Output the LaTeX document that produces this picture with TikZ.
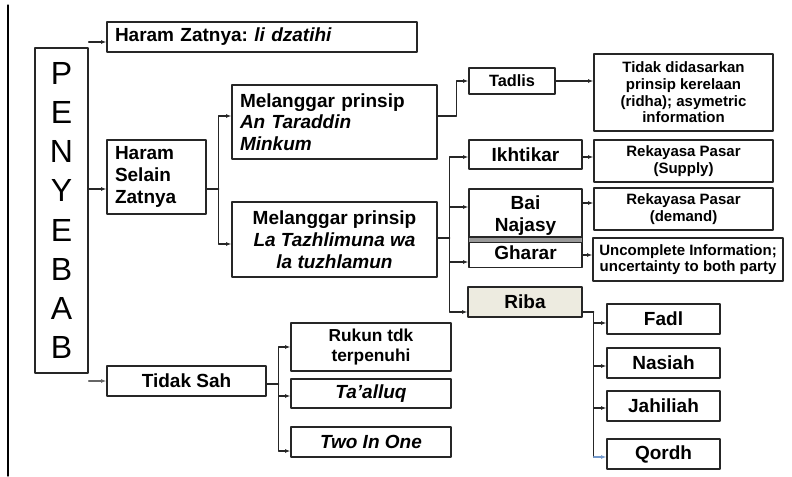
\documentclass[tikz,border=0pt]{standalone}
\usepackage{fontspec}
\setmainfont{Liberation Sans}
\usetikzlibrary{arrows.meta,calc}
\definecolor{ribafill}{rgb}{0.93,0.92,0.88}
\definecolor{lineblue}{rgb}{0.45,0.6,0.8}
\newcommand{\bigf}{\fontsize{14.25}{16.3}\selectfont\bfseries}
\newcommand{\smallf}{\fontsize{11.25}{12.5}\selectfont\bfseries}
\frenchspacing

\begin{document}
\begin{tikzpicture}[line cap=round,line join=round,x=0.75pt,y=-0.75pt,
    box/.style={draw=black!85,line width=1pt,fill=white,inner sep=0pt,align=center,font=\bigf},
    lbox/.style={box,align=left,inner xsep=6pt},
    arr/.style={-{Latex[length=4pt,width=3pt]},line width=0.9pt,draw=black!85},
    conn/.style={line width=0.9pt,draw=black!85}]
    \useasboundingbox (0,0) rectangle (792,476);

    %\draw [step=10,gray!20] (0,0) grid (792,476);
    \draw [line width=1pt] (8,5) -- (8,476);

    \node [box,minimum width=39.75pt,minimum height=243.75pt,
        font=\fontsize{24}{29.4}\selectfont] (pen) at (61.5,210.5) {P\\E\\N\\Y\\E\\B\\A\\B};

    \node [lbox,text width=220.5pt,minimum height=22.5pt] (hz) at (262,37)
        {Haram Zatnya: \textit{li dzatihi}};
    \node [lbox,text width=62.25pt,minimum height=55.5pt] (hsz) at (156.5,177)
        {Haram\\Selain\\Zatnya};
    \node [box,minimum width=119.25pt,minimum height=22.5pt] (ts) at (186.5,381) {Tidak Sah};

    \node [lbox,text width=141.75pt,minimum height=55.5pt] (mat) at (334.5,122)
        {Melanggar prinsip\\\textit{An Taraddin}\\\textit{Minkum}};
    \node [box,minimum width=153.75pt,minimum height=56.25pt] (mlt) at (334.5,239.5)
        {Melanggar prinsip\\\textit{La Tazhlimuna wa}\\\textit{la tuzhlamun}};

    \node [box,minimum width=64.5pt,minimum height=19.5pt,font=\fontsize{12.25}{14}\selectfont\bfseries]
        (tadlis) at (512,81) {Tadlis};
    \node [box,minimum width=134.25pt,minimum height=57.75pt,font=\smallf] (tdk) at (683.5,92.5)
        {Tidak didasarkan\\prinsip kerelaan\\(ridha); asymetric\\information};

    \node [box,minimum width=84.75pt,minimum height=21.75pt] (ikh) at (525.5,154.5) {Ikhtikar};
    \node [box,minimum width=84.75pt,minimum height=39.75pt] (bai) at (525.5,215.5) {Bai\\Najasy};
    \node [box,minimum width=84.75pt,minimum height=22.5pt] (gha) at (525.5,252.5) {Gharar};
    \filldraw [fill=black!40,draw=black!85,line width=1pt] (gha.north west) rectangle (bai.south east);
    \node [box,minimum width=85.5pt,minimum height=22.5pt,fill=ribafill] (riba) at (525,302) {Riba};

    \node [box,minimum width=134.25pt,minimum height=31.5pt,font=\smallf] (rps) at (683.5,161)
        {Rekayasa Pasar\\(Supply)};
    \node [box,minimum width=134.25pt,minimum height=31.5pt,font=\smallf] (rpd) at (683.5,209)
        {Rekayasa Pasar\\(demand)};
    \node [box,minimum width=142.5pt,minimum height=32.25pt,font=\smallf] (uci) at (688,259.5)
        {Uncomplete Information;\\uncertainty to both party};

    \node [box,minimum width=84.75pt,minimum height=22.5pt] (fadl) at (663.5,319) {Fadl};
    \node [box,minimum width=84.75pt,minimum height=22.5pt] (nasiah) at (663.5,363) {Nasiah};
    \node [box,minimum width=84.75pt,minimum height=22.5pt] (jahiliah) at (663.5,406) {Jahiliah};
    \node [box,minimum width=84.75pt,minimum height=22.5pt] (qordh) at (663.5,454) {Qordh};

    \node [box,minimum width=120pt,minimum height=36pt,font=\fontsize{13}{15.5}\selectfont\bfseries]
        (rukun) at (371,347) {Rukun tdk\\terpenuhi};
    \node [box,minimum width=120pt,minimum height=21.75pt] (taalluq) at (371,393.5) {\textit{Ta'alluq}};
    \node [box,minimum width=120pt,minimum height=22.5pt] (two) at (371,442) {\textit{Two In One}};

    % from PENYEBAB
    \draw [arr] ($(pen.east |- hz.west)+(0,5)$) -- ($(hz.west)+(0,5)$);
    \draw [arr] ($(pen.east |- hsz.west)+(0,12)$) -- ($(hsz.west)+(0,12)$);
    \draw [arr,draw=black!60] (pen.east |- ts.west) -- (ts.west);

    % haram selain zatnya
    \draw [conn] ($(hsz.east)+(0,12)$) -- ++(12,0) coordinate (hsj);
    \draw [arr] (hsj) |- ($(mat.west)+(0,-6)$);
    \draw [arr] (hsj) |- ($(mlt.west)+(0,4.5)$);

    \draw [arr] ($(mat.east)+(0,-6)$) -- ++(19,0) |- (tadlis.west);
    \draw [arr] (tadlis.east) -- (tadlis.east -| tdk.west);

    \draw [conn] ($(mlt.east)+(0,-1.5)$) -- ++(12,0) coordinate (mlj);
    \draw [arr] (mlj) |- ($(ikh.west)+(0,2.5)$);
    \draw [arr] (mlj) |- ($(bai.west)+(0,-8.5)$);
    \draw [arr] (mlj) |- ($(gha.west)+(0,9.5)$);
    \draw [arr] (mlj) |- ($(riba.west)+(0,10)$);

    \draw [arr] ($(ikh.east)+(0,2.5)$) -- ($(rps.west)+(0,-4)$);
    \draw [arr] ($(bai.east)+(0,-12.5)$) -- ($(rpd.west)+(0,-6)$);
    \draw [arr] ($(gha.east)+(0,2.5)$) -- ($(uci.west)+(0,-4.5)$);

    % riba
    \draw [conn] ($(riba.east)+(0,10)$) -- ++(11,0) coordinate (rbj);
    \draw [arr] (rbj) |- ($(fadl.west)+(0,4)$);
    \draw [arr] (rbj) |- ($(nasiah.west)+(0,3)$);
    \draw [arr] (rbj) |- ($(jahiliah.west)+(0,2)$);
    \draw [conn] (rbj) -- ($(rbj |- qordh.west)+(0,3)$) coordinate (qj);
    \draw [arr,draw=lineblue] (qj) -- ($(qordh.west)+(0,3)$);

    % tidak sah
    \draw [conn] ($(ts.east)+(0,3)$) -- ++(12,0) coordinate (tsj);
    \draw [arr] (tsj) |- (rukun.west);
    \draw [arr] (tsj) |- ($(taalluq.west)+(0,2.5)$);
    \draw [arr] (tsj) |- ($(two.west)+(0,9)$);
\end{tikzpicture}
\end{document}
